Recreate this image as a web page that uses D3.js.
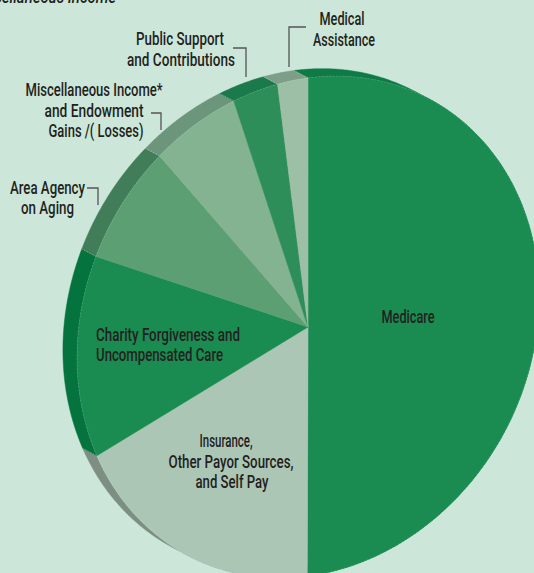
<!DOCTYPE html>
<html>
<head>
<meta charset="utf-8">
<script src="https://cdn.jsdelivr.net/npm/d3@7"></script>
<style>
  html, body { margin: 0; padding: 0; background: #cce7d9; overflow: hidden; }
  svg { display: block; }
  text { font-family: 'Roboto', 'DejaVu Sans Condensed', sans-serif; fill: #231f20; font-weight: 500; }
</style>
</head>
<body>
<svg id="chart" width="534" height="573"></svg>
<script>
// ---------------- data ----------------
const categories = [
  "Medicare",
  "Insurance, Other Payor Sources, and Self Pay",
  "Charity Forgiveness and Uncompensated Care",
  "Area Agency on Aging",
  "Miscellaneous Income* and Endowment Gains /( Losses)",
  "Public Support and Contributions",
  "Medical Assistance"
];
const values = [50.0, 18.3, 13.1, 7.4, 5.9, 3.1, 2.1];
const topColors  = ["#1a8b51", "#acc6b6", "#1a8b51", "#5c9f73", "#84b391", "#2d8e5a", "#9cbfa5"];
const wallColors = ["#0f7a46", "#7c8f82", "#04733d", "#427d5a", "#6c967c", "#1b7a4c", "#7d9e88"];

// label lines (text per category)
const labelText = [
  ["Medicare"],
  ["Insurance,", "Other Payor Sources,", "and Self Pay"],
  ["Charity Forgiveness and", "Uncompensated Care"],
  ["Area Agency", "on Aging"],
  ["Miscellaneous Income*", "and Endowment", "Gains /( Losses)"],
  ["Public Support", "and Contributions"],
  ["Medical", "Assistance"]
];
const footnoteText = "*Miscellaneous Income";

// ---------------- layout ----------------
const W = 534, H = 573;
const CX = 308, CY = 327, R = 258.2;
const TILT = 27.9 * Math.PI / 180;   // direction of squash / extrusion
const SQUASH = 0.8625;
const DEPTH = 16;
const START = -3.64 * Math.PI / 180;

const ct = Math.cos(TILT), st = Math.sin(TILT);
const M11 = ct * ct * SQUASH + st * st;
const M12 = (SQUASH - 1) * st * ct;
const M21 = M12;
const M22 = st * st * SQUASH + ct * ct;
const OFF = [-DEPTH * ct, -DEPTH * st];

function proj(a, r) {
  const px = r * Math.sin(a), py = -r * Math.cos(a);
  return [CX + M11 * px + M12 * py, CY + M21 * px + M22 * py];
}

// label layout: per category, per line: [x, baseline y, width, anchor]
const labelLayout = [
  [[408, 323, 53, "middle"]],
  [[226, 447, 53, "middle"], [231, 468, 125, "middle"], [232, 488, 73, "middle"]],
  [[96, 341, 144, "start"], [96, 361, 127, "start"]],
  [[47.5, 194, 75, "middle"], [47.5, 214, 53, "middle"]],
  [[94, 96, 137, "middle"], [94, 116.5, 99, "middle"], [96, 137, 95, "middle"]],
  [[180, 45, 88, "middle"], [181, 66, 108, "middle"]],
  [[342, 25, 45, "middle"], [344, 46, 62, "middle"]]
];
const leaders = [
  null, null, null,
  [[87, 188], [98, 188], [98, 205]],
  [[151, 113], [161, 113], [161, 130]],
  [[233, 48], [246, 48], [246, 77]],
  [[306, 27], [289, 27], [289, 67]]
];

// ---------------- drawing ----------------
const svg = d3.select("#chart");
svg.append("rect").attr("width", W).attr("height", H).attr("fill", "#cce7d9");

const pie = d3.pie().sort(null).value(d => d)
  .startAngle(START).endAngle(START + 2 * Math.PI);
const arcs = pie(values);

// side walls
const line = d3.line();
const wallG = svg.append("g");
arcs.forEach((d, i) => {
  const n = Math.max(4, Math.ceil((d.endAngle - d.startAngle) / (0.4 * Math.PI / 180)));
  const topPts = d3.range(n + 1).map(k => proj(d.startAngle + (d.endAngle - d.startAngle) * k / n, R));
  const botPts = topPts.map(p => [p[0] + OFF[0], p[1] + OFF[1]]).reverse();
  wallG.append("path")
    .attr("d", line(topPts.concat(botPts)) + "Z")
    .attr("fill", wallColors[i])
    .attr("stroke", wallColors[i])
    .attr("stroke-width", 0.5);
});
// dividers on the wall
arcs.forEach(d => {
  const p = proj(d.startAngle, R);
  wallG.append("line")
    .attr("x1", p[0]).attr("y1", p[1])
    .attr("x2", p[0] + OFF[0]).attr("y2", p[1] + OFF[1])
    .attr("stroke", "#ffffff").attr("stroke-opacity", 0.35)
    .attr("stroke-width", 0.8).attr("stroke-dasharray", "1.5,1.5");
});

// top faces
const arcGen = d3.arc().innerRadius(0).outerRadius(R);
const topG = svg.append("g")
  .attr("transform", `matrix(${M11},${M21},${M12},${M22},${CX},${CY})`);
topG.selectAll("path").data(arcs).join("path")
  .attr("d", arcGen)
  .attr("fill", (d, i) => topColors[i])
  .attr("stroke", (d, i) => topColors[i])
  .attr("stroke-width", 0.6)
  .attr("vector-effect", "non-scaling-stroke");

// faint edge highlight along the top rim
const rimPts = d3.range(0, 361).map(k => proj(START + k * Math.PI / 180, R));
svg.append("path")
  .attr("d", line(rimPts))
  .attr("fill", "none")
  .attr("stroke", "#ffffff").attr("stroke-opacity", 0.18)
  .attr("stroke-width", 0.8).attr("stroke-dasharray", "2,1.5");

// leaders
leaders.forEach(l => {
  if (!l) return;
  svg.append("path").attr("d", line(l))
    .attr("fill", "none").attr("stroke", "#555555").attr("stroke-width", 1.3);
});

// labels
labelText.forEach((lines, i) => {
  lines.forEach((t, j) => {
    const [x, y, w, anchor] = labelLayout[i][j];
    svg.append("text")
      .attr("x", x).attr("y", y)
      .attr("text-anchor", anchor)
      .attr("font-size", 18.5)
      .attr("textLength", w)
      .attr("lengthAdjust", "spacingAndGlyphs")
      .text(t);
  });
});

// footnote (cut off at the top edge, as in the original figure)
svg.append("text")
  .attr("x", 116).attr("y", 3)
  .attr("text-anchor", "end")
  .attr("font-size", 18)
  .attr("font-style", "italic")
  .attr("font-weight", 400)
  .attr("textLength", 152)
  .attr("lengthAdjust", "spacingAndGlyphs")
  .text(footnoteText);
</script>
</body>
</html>
